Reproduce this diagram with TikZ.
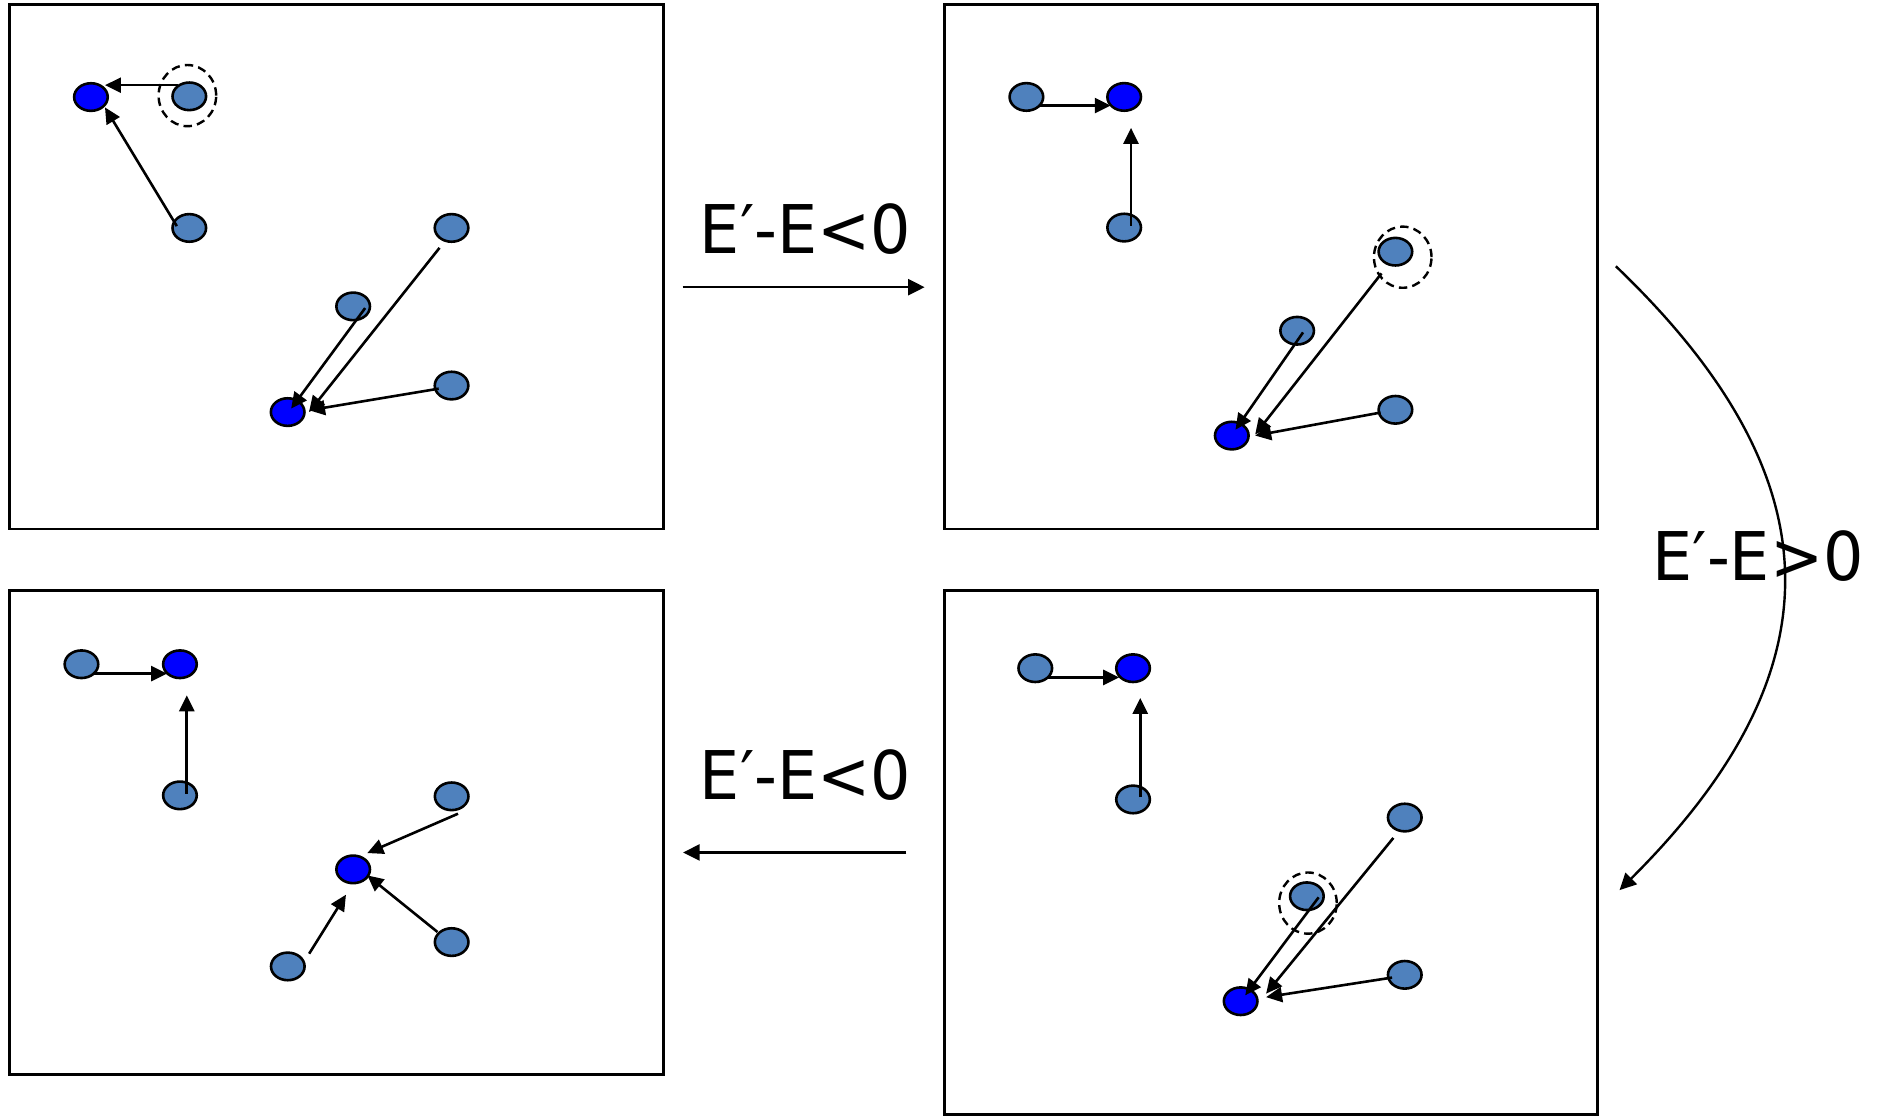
\documentclass[tikz,border=0pt]{standalone}
\usepackage{fontspec}
\newfontfamily\lblfont[FakeStretch=0.945]{DejaVu Sans}
\usetikzlibrary{shapes.geometric,arrows.meta,calc}
\definecolor{lightnode}{RGB}{79,129,189}
\definecolor{darknode}{RGB}{0,0,255}
\tikzset{
 pt/.style={ellipse,draw=black,line width=1.3pt,minimum width=16.8pt,minimum height=13.8pt,inner sep=0pt},
 lt/.style={pt,fill=lightnode},
 dk/.style={pt,fill=darknode},
 sel/.style={ellipse,draw=black,dash pattern=on 4.2pt off 2.6pt,line width=1.2pt,minimum width=28.8pt,minimum height=30.6pt,inner sep=0pt},
 panel/.style={draw=black,line width=1.45pt,inner sep=0pt,minimum width=327pt},
 mv/.style={line width=1.3pt,-{Triangle[length=8pt,width=7.5pt]}},
 flow/.style={line width=1.2pt,-{Triangle[length=8.3pt,width=8pt]}},
 lbl/.style={font=\lblfont\fontsize{33.6pt}{40pt}\selectfont,anchor=base,inner sep=0pt},
}
\begin{document}
\begin{tikzpicture}[x=0.6pt,y=-0.6pt]
\useasboundingbox (0,0) rectangle (1568,930);
% panels
\node[panel,minimum height=262.2pt] (P1) at (280.5,222.5) {};
\node[panel,minimum height=262.2pt] (P2) at (1059.5,222.5) {};
\node[panel,minimum height=242.4pt] (P3) at (280.5,694) {};
\node[panel,minimum height=262.2pt] (P4) at (1059.5,710.5) {};
% panel 1
\node[dk] (a1) at (75.8,80.9) {};
\node[lt] (b1) at (157.8,80.3) {};
\node[sel] (s1) at (156.2,79.7) {};
\node[lt] (c1) at (157.8,190) {};
\node[lt] (d1) at (376.4,190) {};
\node[lt] (e1) at (294.4,255.4) {};
\node[lt] (f1) at (376.4,321.4) {};
\node[dk] (g1) at (239.8,343.5) {};
\draw[mv] ([shift={(-9.8,-9.3)}]b1.center) -- ([shift={(11.7,-9.9)}]a1.center);
\draw[mv] ([shift={(-10.4,-1.5)}]c1.center) -- ([shift={(11.7,8.6)}]a1.center);
\draw[mv] ([shift={(-10,16.6)}]d1.center) -- ([shift={(17.8,0)}]g1.center);
\draw[mv] ([shift={(10,1.4)}]e1.center) -- ([shift={(2.9,-2.9)}]g1.center);
\draw[mv] ([shift={(-10.7,2.6)}]f1.center) -- ([shift={(17.8,-1.5)}]g1.center);
% panel 2
\node[lt] (a2) at (855.6,80.8) {};
\node[dk] (b2) at (937.1,80.8) {};
\node[lt] (c2) at (937.1,189.7) {};
\node[lt] (d2) at (1163.2,209.8) {};
\node[sel] (s2) at (1169.3,214.4) {};
\node[lt] (e2) at (1081.3,275.7) {};
\node[lt] (f2) at (1163.2,341.6) {};
\node[dk] (g2) at (1026.8,363.1) {};
\draw[mv] ([shift={(10.5,7.2)}]a2.center) -- ([shift={(-11.2,7.2)}]b2.center);
\draw[mv] ([shift={(5.7,-1.4)}]c2.center) -- ([shift={(5.7,25.8)}]b2.center);
\draw[mv] ([shift={(-11.6,18.1)}]d2.center) -- ([shift={(19.5,-0.9)}]g2.center);
\draw[mv] ([shift={(4.9,1.4)}]e2.center) -- ([shift={(3.1,-4.9)}]g2.center);
\draw[mv] ([shift={(-12.3,2.3)}]f2.center) -- ([shift={(19.5,0)}]g2.center);
% panel 3
\node[lt] (a3) at (67.9,553.7) {};
\node[dk] (b3) at (150,553.7) {};
\node[lt] (c3) at (150,663) {};
\node[lt] (d3) at (376.5,663.8) {};
\node[dk] (g3) at (294.4,724.7) {};
\node[lt] (e3) at (239.9,805.6) {};
\node[lt] (f3) at (376.5,785.3) {};
\draw[mv] ([shift={(10.7,7.8)}]a3.center) -- ([shift={(-10.7,7.8)}]b3.center);
\draw[mv] ([shift={(5.7,-1.4)}]c3.center) -- ([shift={(5.7,25.9)}]b3.center);
\draw[mv] ([shift={(5.3,14.5)}]d3.center) -- ([shift={(11.8,-13.6)}]g3.center);
\draw[mv] ([shift={(-11.8,-8.4)}]f3.center) -- ([shift={(11.8,5)}]g3.center);
\draw[mv] ([shift={(17.8,-10.6)}]e3.center) -- ([shift={(-6,21.1)}]g3.center);
% panel 4
\node[lt] (a4) at (863,557) {};
\node[dk] (b4) at (944.5,557) {};
\node[lt] (c4) at (944.5,666.4) {};
\node[lt] (d4) at (1171,681.5) {};
\node[lt] (e4) at (1089.4,747.1) {};
\node[sel] (s4) at (1090.3,752.8) {};
\node[lt] (f4) at (1171,812.6) {};
\node[dk] (g4) at (1034.2,834.6) {};
\draw[mv] ([shift={(10.1,7.7)}]a4.center) -- ([shift={(-11.6,7.7)}]b4.center);
\draw[mv] ([shift={(6,-2)}]c4.center) -- ([shift={(6,24.8)}]b4.center);
\draw[mv] ([shift={(-9.5,17)}]d4.center) -- ([shift={(21.2,-6.3)}]g4.center);
\draw[mv] ([shift={(9.8,0.9)}]e4.center) -- ([shift={(3.8,-4.9)}]g4.center);
\draw[mv] ([shift={(-10.6,2.3)}]f4.center) -- ([shift={(21.2,-3.4)}]g4.center);
% transitions
\coordinate (t1s) at (569,239.4);
\coordinate (t1e) at (770.8,239.4);
\coordinate (t2s) at (1347,222);
\coordinate (t2e) at (1350,742);
\coordinate (t3s) at (755.6,710.6);
\coordinate (t3e) at (569.4,710.6);
\draw[flow] (t1s) -- (t1e);
\draw[flow] (t2s) .. controls (1533,400) and (1533,560) .. (t2e);
\draw[flow] (t3s) -- (t3e);
\node[lbl] (L1) at (671.5,211.7) {E′-E<0};
\node[lbl] (L2) at (671.5,666.7) {E′-E<0};
\node[lbl] (L3) at (1465.5,484) {E′-E>0};
\end{tikzpicture}
\end{document}
